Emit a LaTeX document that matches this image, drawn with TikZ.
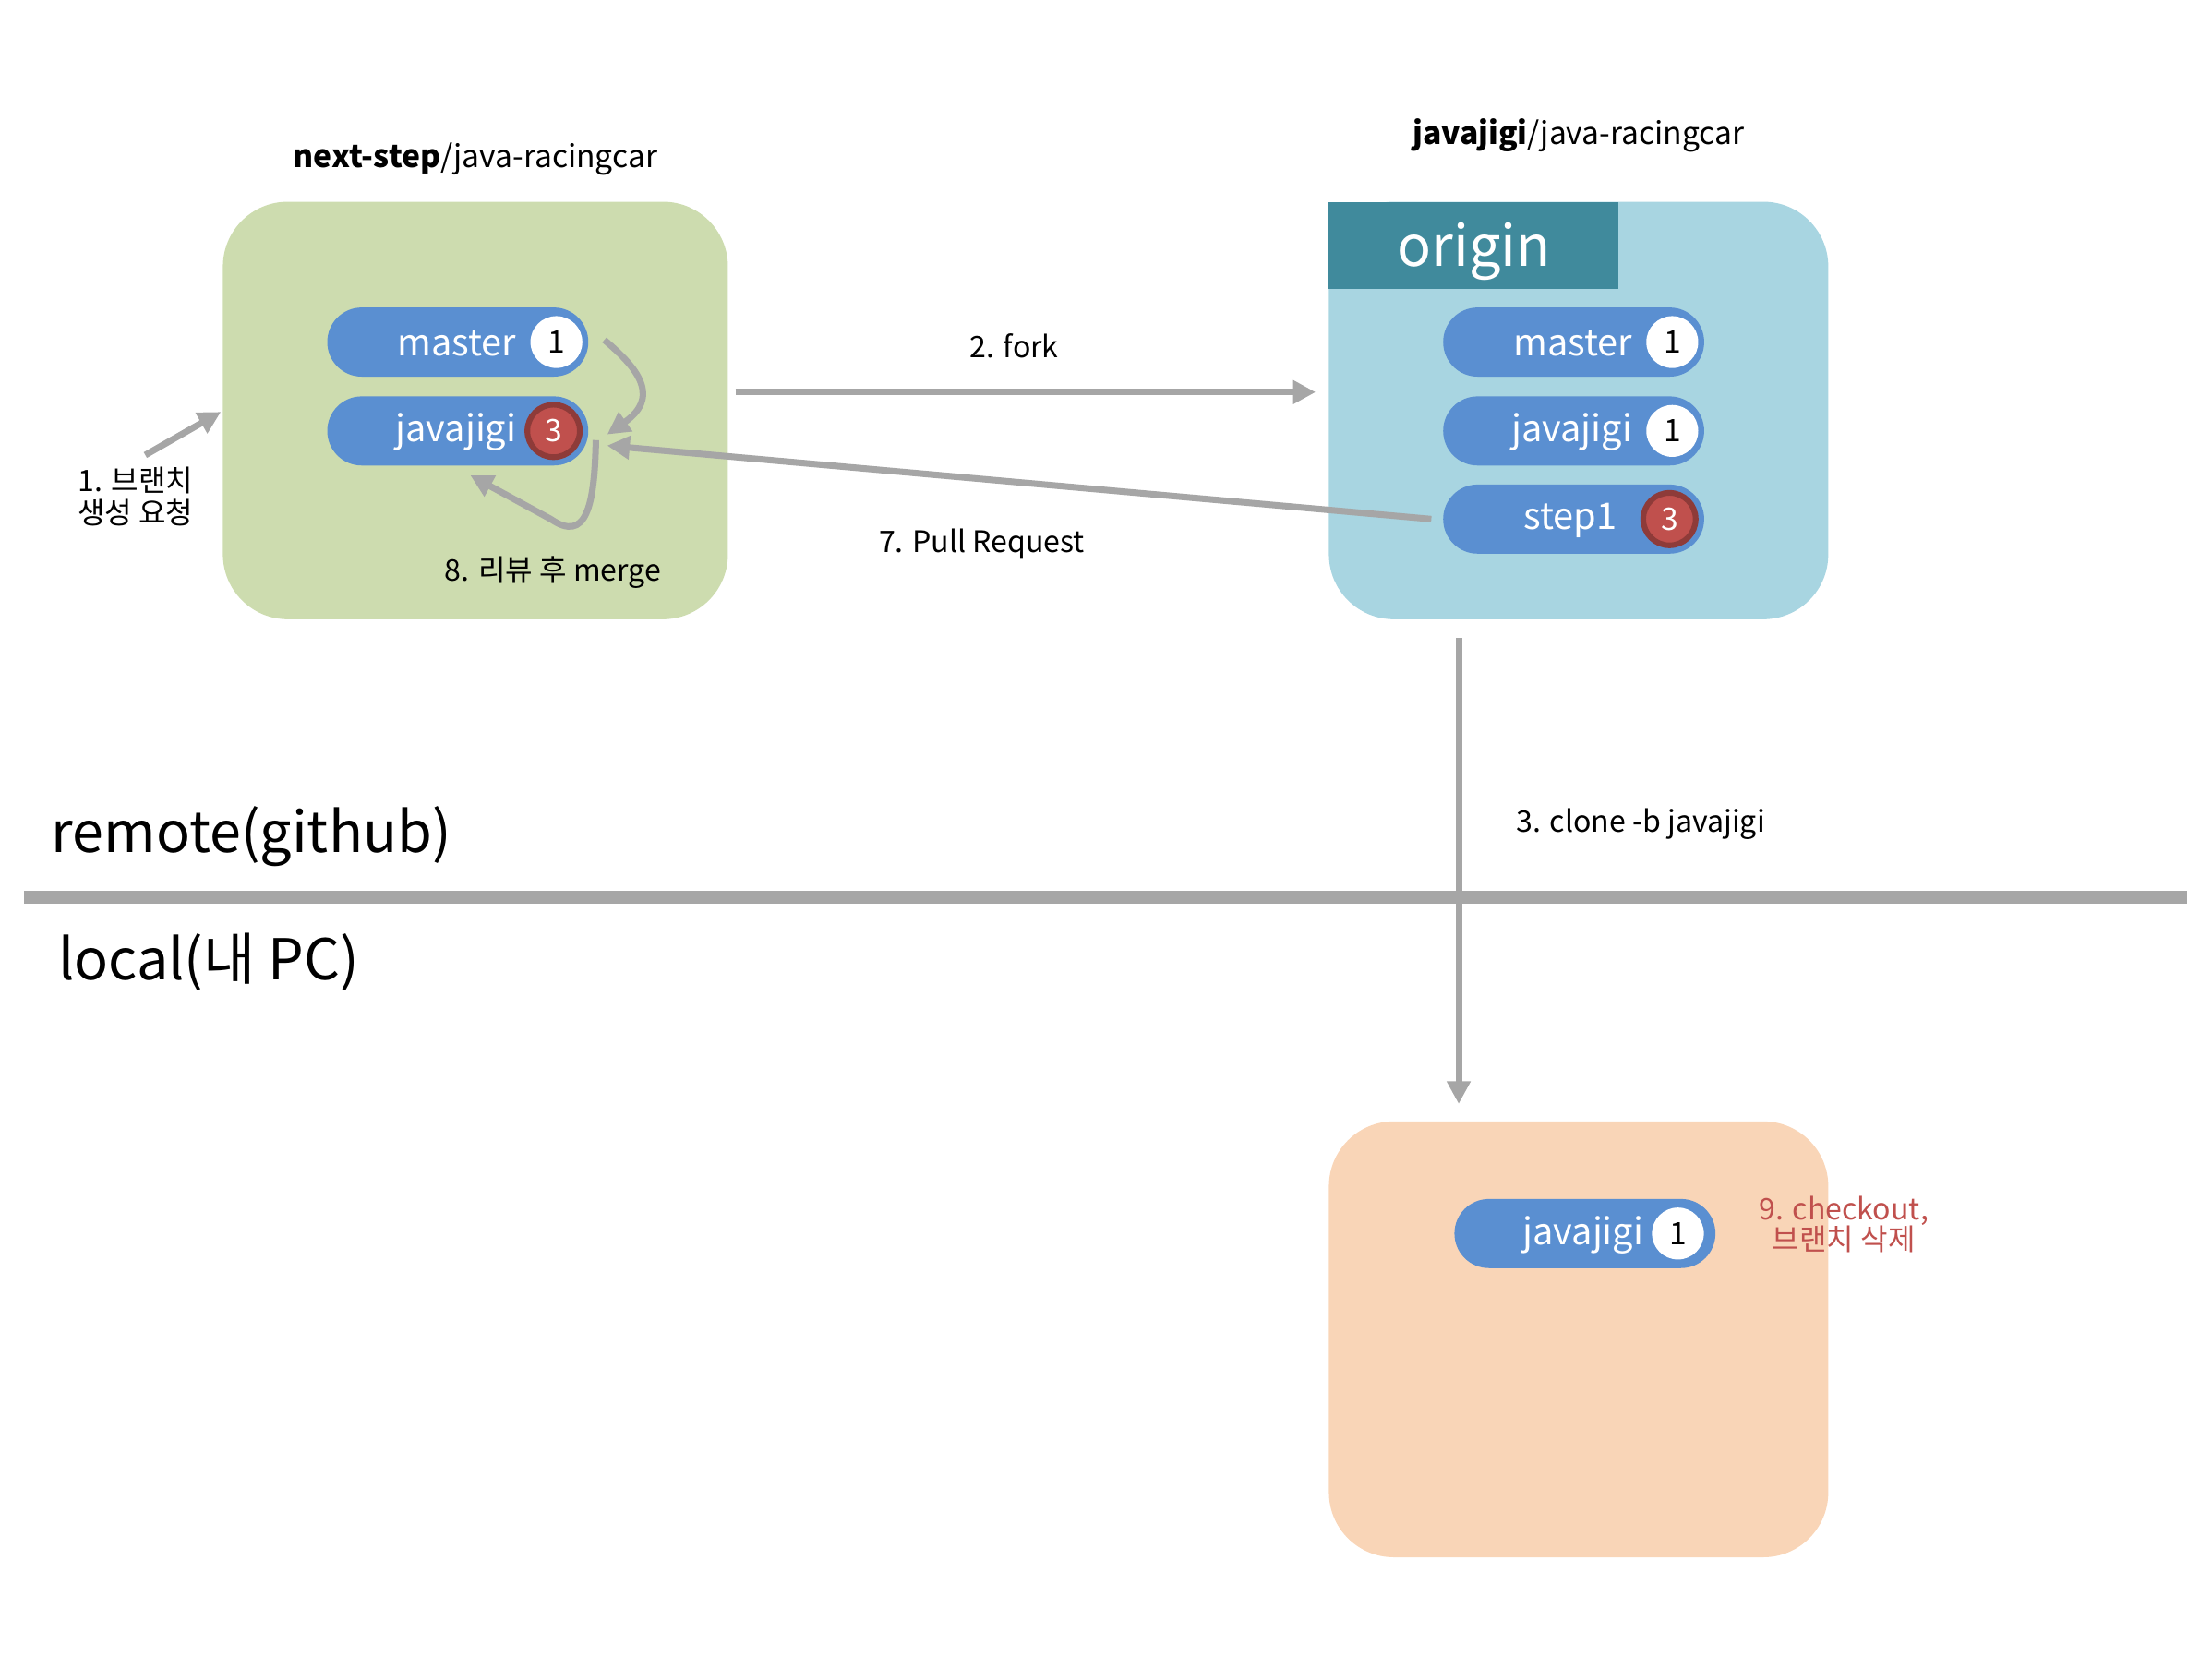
\documentclass[tikz,border=0pt]{standalone}
\usepackage{fontspec}
\setmainfont{Noto Sans CJK KR}
\usetikzlibrary{arrows.meta,shadows}
\definecolor{greenbox}{HTML}{CDDCAF}
\definecolor{bluebox}{HTML}{A8D5E1}
\definecolor{originhd}{HTML}{408A9C}
\definecolor{orangebox}{HTML}{F9D5B7}
\definecolor{pillblue}{HTML}{5A8FD1}
\definecolor{arrgrey}{HTML}{A6A6A6}
\definecolor{redc}{HTML}{C0504D}
\definecolor{reddark}{HTML}{8E3B39}
\tikzset{
  repobox/.style={rounded corners=23pt, inner sep=0pt},
  pill/.style={fill=pillblue, rounded corners=12.2pt, minimum width=92.5pt, minimum height=24.5pt, inner sep=0pt},
  plabel/.style={text=white, font=\fontsize{13}{15}\selectfont, inner sep=0pt, anchor=east},
  numw/.style={circle, fill=white, minimum size=18.4pt, inner sep=0pt, font=\fontsize{11}{13}\selectfont},
  numr/.style={circle, fill=redc, draw=reddark, line width=2pt, minimum size=18.6pt, inner sep=0pt, text=white, font=\fontsize{11}{13}\selectfont, drop shadow={opacity=0.25, shadow xshift=0.6pt, shadow yshift=-0.8pt}},
  lbl/.style={font=\fontsize{10.5}{12.5}\selectfont, inner sep=0pt, align=center},
  ttl/.style={font=\fontsize{11}{13}\selectfont, inner sep=0pt},
  big/.style={font=\fontsize{20}{24}\selectfont, inner sep=0pt, anchor=west},
  arr/.style={draw=arrgrey, line width=2.3pt, -{Triangle[length=8pt,width=8pt]}},
}
\begin{document}
\begin{tikzpicture}[x=0.5pt,y=-0.5pt]
\useasboundingbox (0,0) rectangle (1568,1174);

% titles
\node[ttl] (t1) at (337,113) {\textbf{next-step}/java-racingcar};
\node[ttl] (t2) at (1119,96) {\textbf{javajigi}/java-racingcar};

% repository boxes
\node[repobox, fill=greenbox, minimum width=179pt, minimum height=148pt] (green) at (337,291) {};
\node[repobox, fill=bluebox, minimum width=177pt, minimum height=148pt] (blue) at (1119,291) {};
\node[fill=originhd, minimum width=102.5pt, minimum height=31pt, inner sep=0pt] (hdr) at (1044.5,174) {};
\node[text=white, font=\fontsize{20}{24}\selectfont, inner sep=0pt] (orig) at (1045,178) {origin};
\node[repobox, fill=orangebox, minimum width=177pt, minimum height=154.5pt] (orange) at (1119,949.5) {};

% pills: next-step
\node[pill] (gm) at (324.5,242.5) {};
\node[plabel] (gmt) at ([xshift=-25.5pt,yshift=-0.5pt]gm.east) {master};
\node[numw] (gmn) at ([xshift=-11.5pt]gm.east) {1};
\node[pill] (gj) at (324.5,305.5) {};
\node[plabel] (gjt) at ([xshift=-25.5pt,yshift=-0.5pt]gj.east) {javajigi};
\node[numr] (gjn) at ([xshift=-12.5pt]gj.east) {3};

% pills: origin
\node[pill] (bm) at (1115.5,242.5) {};
\node[plabel] (bmt) at ([xshift=-25.5pt,yshift=-0.5pt]bm.east) {master};
\node[numw] (bmn) at ([xshift=-11.5pt]bm.east) {1};
\node[pill] (bj) at (1115.5,305.5) {};
\node[plabel] (bjt) at ([xshift=-25.5pt,yshift=-0.5pt]bj.east) {javajigi};
\node[numw] (bjn) at ([xshift=-11.5pt]bj.east) {1};
\node[pill] (bs) at (1115.5,368) {};
\node[plabel] (bst) at ([xshift=-31pt,yshift=-0.5pt]bs.east) {step1};
\node[numr] (bsn) at ([xshift=-12.5pt]bs.east) {3};

% pill: local
\node[pill] (lj) at (1123.5,874.5) {};
\node[plabel] (ljt) at ([xshift=-25.5pt,yshift=-0.5pt]lj.east) {javajigi};
\node[numw] (ljn) at ([xshift=-13.5pt]lj.east) {1};

% divider
\coordinate (dl) at (17,636);
\coordinate (dr) at (1550,636);
\draw[arrgrey, line width=4.5pt] (dl) -- (dr);
\node[big] (remote) at (36,593) {remote(github)};
\node[big] (local) at (41,682) {local(내 PC)};

% labels
\node[lbl] (l1) at (96,352) {1. 브랜치\\[-1pt]생성 요청};
\node[lbl] (l2) at (719,245) {2. fork};
\node[lbl] (l3) at (1163,584) {3. clone -b javajigi};
\node[lbl] (l7) at (696,386) {7. Pull Request};
\node[lbl] (l8) at (392,406) {8. 리뷰 후 merge};
\node[lbl, text=redc] (l9) at (1307,868) {9. checkout,\\[-1.5pt]브랜치 삭제};

% connectors
\draw[arr] ([xshift=3.5pt,yshift=4pt]l1.north) -- ([xshift=-0.5pt,yshift=-0.5pt]green.west);
\draw[arr] ([xshift=2.5pt,yshift=6.5pt]green.east) -- ([xshift=-4.5pt,yshift=6.5pt]blue.west);
\draw[arr] ([xshift=-4pt]bs.west) -- ([xshift=6.5pt,yshift=-5.2pt]gj.east);
\draw[arr] ([xshift=-42.5pt,yshift=-6.5pt]blue.south) -- ([xshift=-42.5pt,yshift=6pt]orange.north);
\draw[arr] ([xshift=5.5pt,yshift=0.75pt]gm.east) .. controls ([xshift=15.5pt,yshift=-7.75pt]gm.east) and ([xshift=26.5pt,yshift=-18.75pt]gm.east) .. ([xshift=6.5pt,yshift=-1.25pt]gj.east);
\draw[arr] ([xshift=2.5pt,yshift=-3.25pt]gj.east) .. controls ([xshift=2pt,yshift=-27pt]gj.east) and ([xshift=-1pt,yshift=-39.75pt]gj.east) .. ([xshift=-13.5pt,yshift=-31.25pt]gj.east) -- ([xshift=-42pt,yshift=-15.75pt]gj.east);
\end{tikzpicture}
\end{document}
